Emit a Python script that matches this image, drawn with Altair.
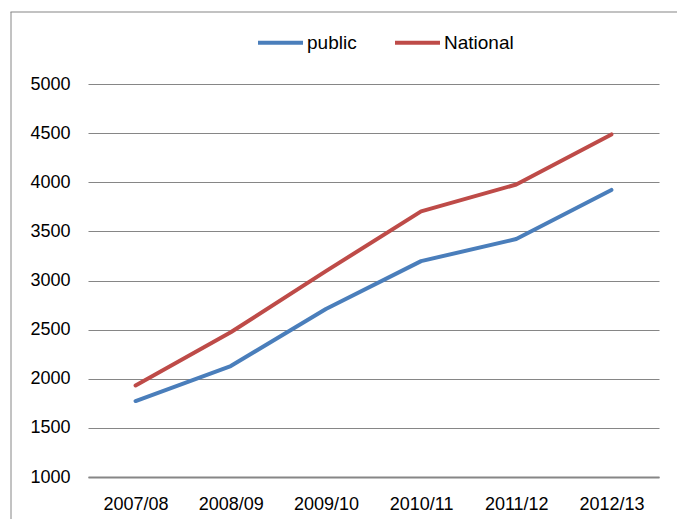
import altair as alt
import pandas as pd

categories = ["2007/08", "2008/09", "2009/10", "2010/11", "2011/12", "2012/13"]
public = [1773, 2129, 2710, 3197, 3422, 3922]
national = [1932, 2473, 3095, 3704, 3977, 4487]
series_names = ["public", "National"]
series_colors = ["#4A7EBB", "#BE4B48"]
y_ticks = [1000, 1500, 2000, 2500, 3000, 3500, 4000, 4500, 5000]

rows = []
for i, c in enumerate(categories):
    rows.append({"year": c, "series": "public", "value": public[i], "order": 0})
    rows.append({"year": c, "series": "National", "value": national[i], "order": 1})
df = pd.DataFrame(rows)

FONT = "Liberation Sans"
W, H = 571, 393

one = pd.DataFrame({"a": [0]})
frame_left = alt.Chart(one).mark_rule(stroke="#868686", strokeWidth=1).encode(
    x=alt.value(-77), y=alt.value(-72), y2=alt.value(H + 80)
)
frame_top = alt.Chart(one).mark_rect(fill="#868686", strokeWidth=0).encode(
    x=alt.value(-77.5), x2=alt.value(W + 18), y=alt.value(-72.5), y2=alt.value(-71.5)
)

lines = alt.Chart(df).mark_line(strokeWidth=4, strokeCap="round", strokeJoin="round").encode(
    x=alt.X("year:N", sort=categories,
            scale=alt.Scale(type="point", padding=0.5),
            axis=alt.Axis(title=None, labelAngle=0, ticks=False, grid=False,
                          domain=True, domainColor="#868686", domainWidth=2,
                          labelFont=FONT, labelFontSize=18, labelColor="#000000",
                          labelPadding=18)),
    y=alt.Y("value:Q", scale=alt.Scale(domain=[1000, 5000], nice=False),
            axis=alt.Axis(title=None, values=y_ticks, format="d", ticks=False, domain=False,
                          grid=True, gridColor="#868686", gridWidth=1.2,
                          labelFont=FONT, labelFontSize=18, labelColor="#000000",
                          labelPadding=18)),
    color=alt.Color("series:N", sort=series_names,
                    scale=alt.Scale(domain=series_names, range=series_colors),
                    legend=alt.Legend(title=None, orient="none", direction="horizontal",
                                      legendX=168, legendY=-66, padding=0,
                                      symbolType="stroke", symbolSize=2025,
                                      symbolStrokeWidth=4, labelOffset=2,
                                      columnPadding=30,
                                      labelFont=FONT, labelFontSize=19,
                                      labelColor="#000000")),
    order="order:Q",
    detail="series:N",
)

chart = alt.layer(frame_left, frame_top, lines).properties(
    width=W, height=H,
    padding={"left": 80, "top": 76, "right": 18, "bottom": 42},
    autosize=alt.AutoSizeParams(type="none"),
    background="white",
).configure_view(stroke=None)

chart.save("out.html", embed_options={"renderer": "svg", "actions": False})
